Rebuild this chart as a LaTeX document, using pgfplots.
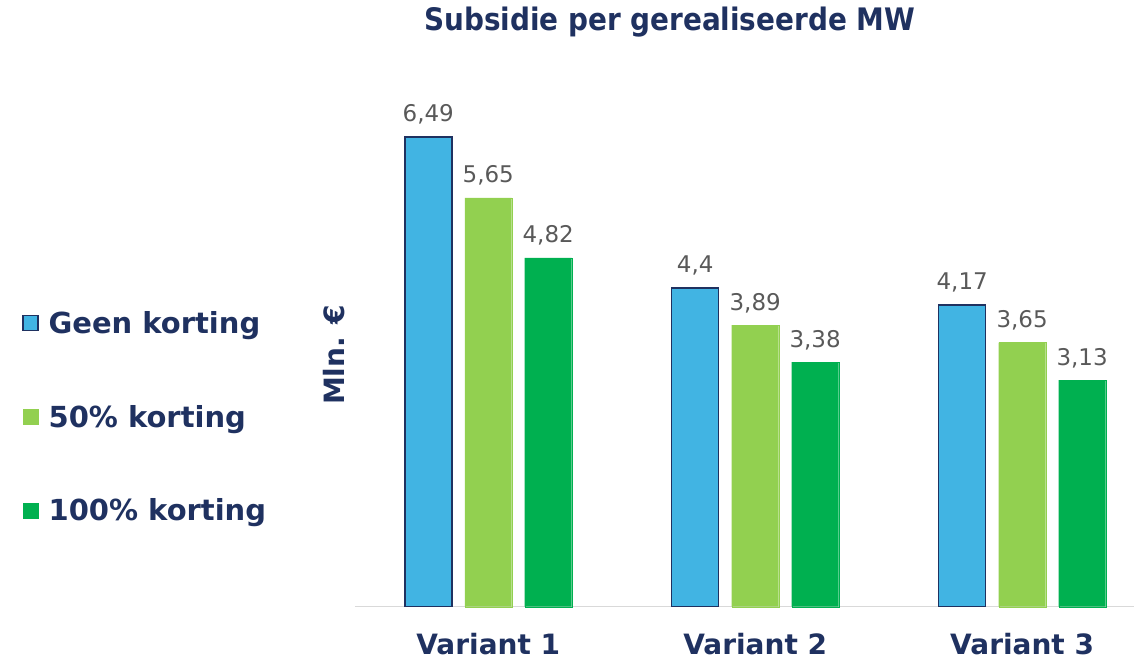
\documentclass[border=0pt]{standalone}
\usepackage{fontspec}
\setmainfont{DejaVu Sans}
\newfontfamily\condfont{DejaVu Sans Condensed}
\usepackage{pgfplots}
\pgfplotsset{compat=1.18}
\definecolor{navy}{HTML}{1F3160}
\definecolor{cblue}{HTML}{41B4E3}
\definecolor{clight}{HTML}{92D050}
\definecolor{cgreen}{HTML}{00B050}
\definecolor{labgray}{HTML}{595959}
\definecolor{axgray}{HTML}{D9D9D9}
\begin{document}
\begin{tikzpicture}
\begin{axis}[name=ax, scale only axis, width=780pt, height=560pt,
  xmin=-0.5, xmax=2.42, ymin=0, ymax=7.735,
  ybar=13pt, bar width=47pt,
  axis x line*=bottom, axis y line=none,
  x axis line style={draw=axgray, line width=1.5pt, -},
  xtick={0,1,2}, xticklabels={Variant 1,Variant 2,Variant 3},
  major tick length=0pt, ytick=\empty,
  xticklabel style={font=\bfseries\fontsize{28}{28}\selectfont, text=navy, yshift=-23pt},
  clip=false,
  nodes near coords,
  nodes near coords style={font=\fontsize{23}{23}\selectfont, text=labgray, yshift=9pt},
  /pgf/number format/use comma,
  /pgf/number format/assume math mode=true,
  legend style={at={(axis description cs:-0.427,0.534)}, anchor=north west, draw=none, fill=none,
    font=\bfseries\fontsize{29}{29}\selectfont, text=navy, row sep=66pt, inner xsep=0pt,
    /tikz/every odd column/.append style={column sep=8pt}},
  legend cell align=left,
  legend image code/.code={\draw[#1,/tikz/.cd] (0pt,-7pt) rectangle (15pt,8pt);},
]
\addplot[fill=cblue, draw=navy, line width=1.5pt] coordinates {(0,6.49) (1,4.4) (2,4.17)};
\addplot[fill=clight, draw=clight, line width=0.1pt] coordinates {(0,5.65) (1,3.89) (2,3.65)};
\addplot[fill=cgreen, draw=cgreen, line width=0.1pt] coordinates {(0,4.82) (1,3.38) (2,3.13)};
\legend{Geen korting,50\% korting,100\% korting}
\node[font=\condfont\bfseries\fontsize{31}{31}\selectfont, text=navy] at (axis description cs:0.404,1.045) {Subsidie per gerealiseerde MW};
\node[rotate=90, font=\bfseries\fontsize{28}{28}\selectfont, text=navy] at (axis description cs:-0.026,0.45) {Mln. €};
\end{axis}
\path (ax.south west) ++(-355pt,-53pt) rectangle ++(1135pt,660pt);
\end{tikzpicture}
\end{document}
